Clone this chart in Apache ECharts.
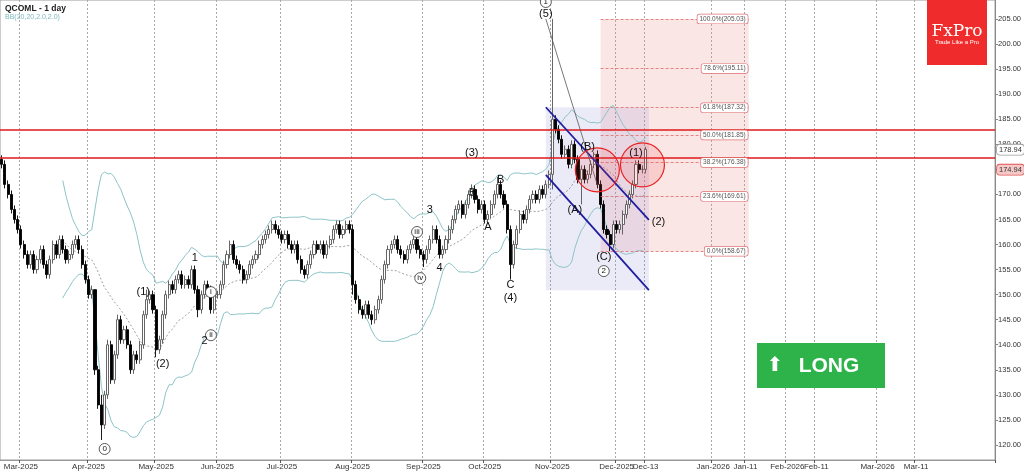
<!DOCTYPE html>
<html>
<head>
<meta charset="utf-8">
<script src="https://cdn.jsdelivr.net/npm/echarts@6/dist/echarts.min.js"></script>
<style>html,body{margin:0;padding:0;background:#fff}#main{width:1024px;height:474px}</style>
</head>
<body>
<div id="main"></div>
<script>
// daily closes (index 0 = 21 Feb 2025)
const closes = [
  176,172,170,167,165,163,160,158,156,158, 155,157,159,156,154,157,160,158,161,159,
  157,158,160,161,159,156,153,150,151,135,128,124,130,140,133,138,145,141,143,140,
  135,138,137,140,146,149,150,147,139,141, 146,150,152,151,153,154,152,153,152,155,
  151,147,150,152,151,147,150,150,152,156, 158,160,157,156,155,153,154,156,157,158,
  160,161,162,163,164,163,162,161,162,160, 159,160,157,155,154,156,158,160,159,160,
  158,160,161,163,164,162,163,164,163,152, 149,147,146,148,146,145,147,149,153,156,
  159,160,161,159,158,157,159,160,161,159, 158,157,159,161,163,161,158,159,161,163,
  165,167,168,166,168,170,171,169,167,168, 165,166,168,170,172,170,168,163,156,160,
  163,166,165,167,169,170,169,171,170,172, 174,185,183,181,178,179,176,180,177,173,
  175,173,174,176,178,172,168,163,162,160, 164,163,164,166,168,170,172,176,175,175,
  179
];
// hand-read extremes where the wick is notable
const highs = {29:151, 31:130, 33:141, 36:146, 45:151, 109:164, 146:172, 154:173.5, 171:205.03, 184:178.5, 200:179.5};
const lows = {29:134, 31:121, 48:137.5, 61:145.5, 109:150, 115:144, 131:155.5, 158:153, 171:171, 180:168, 189:158.67, 193:162};
const totalBars = 309;
const monthTicks = {6:'Mar-2025',27:'Apr-2025',48:'May-2025',67:'Jun-2025',87:'Jul-2025',109:'Aug-2025',131:'Sep-2025',150:'Oct-2025',171:'Nov-2025',191:'Dec-2025',200:'Dec-13',221:'Jan-2026',231:'Jan-11',244:'Feb-2026',253:'Feb-11',272:'Mar-2026',284:'Mar-11'};
const priceTicks = [120,125,130,135,140,145,150,155,160,165,170,175,180,185,190,195,200,205];
const fibLevels = [[205.03,'100.0%'],[195.11,'78.6%'],[187.32,'61.8%'],[181.85,'50.0%'],[176.38,'38.2%'],[169.61,'23.6%'],[158.67,'0.0%']];
const resistance = [183.0, 177.3];
// wave labels: text, bar index, price, circled
const waves = [
  ['(5)',169,206,false],['1',169,208.4,true],['(3)',146.4,178.3,false],['5',145.8,170.3,false],
  ['3',133.1,166.9,false],['iii',128.8,162.5,true],['B',154.8,172.9,false],['A',151.1,163.5,false],
  ['4',135.6,155.3,false],['iv',130,153.3,true],['C',157.9,151.9,false],['(4)',157.9,149.3,false],
  ['(B)',182,179.5,false],['(A)',177.7,166.9,false],['(C)',186.6,157.5,false],['2',186.6,154.7,true],
  ['(1)',196.8,178.3,false],['(2)',203.6,164.5,false],['1',60.4,157.3,false],['2',62.9,140.7,false],
  ['i',65.4,150.5,true],['ii',64.5,141.9,true],['(1)',44.3,150.5,false],['(2)',49.6,136.1,false],
  ['0',31.7,119.2,true]
];

const cats = [];
for (let i = 0; i < totalBars; i++) cats.push(monthTicks[i] || String(i));
const candles = closes.map((c, i) => {
  const o = i === 0 ? 177 : closes[i - 1];
  const h = highs[i] !== undefined ? highs[i] : Math.max(o, c) + 0.8;
  const l = lows[i] !== undefined ? lows[i] : Math.min(o, c) - 0.8;
  return [o, c, l, h];
});
// Bollinger 20, 2
const mid = [], up = [], dn = [];
closes.forEach((c, i) => {
  if (i < 19) { mid.push('-'); up.push('-'); dn.push('-'); return; }
  const w = closes.slice(i - 19, i + 1);
  const m = w.reduce((a, b) => a + b, 0) / 20;
  const sd = Math.sqrt(w.reduce((a, b) => a + (b - m) * (b - m), 0) / 20);
  mid.push(m); up.push(m + 2 * sd); dn.push(m - 2 * sd);
});

const tickShow = (idx) => monthTicks[idx] !== undefined;
const chart = echarts.init(document.getElementById('main'));
chart.setOption({
  animation: false,
  grid: {left: 0, right: 28, top: 0, bottom: 14, show: true, borderColor: '#999', borderWidth: 1},
  xAxis: {
    type: 'category', data: cats, boundaryGap: true,
    axisLine: {lineStyle: {color: '#999'}},
    axisTick: {show: true, interval: (i) => tickShow(i), length: 3, lineStyle: {color: '#555'}},
    axisLabel: {interval: (i) => tickShow(i), fontSize: 8, color: '#333', margin: 3, fontFamily: 'Arial'},
    splitLine: {show: true, interval: (i) => tickShow(i), lineStyle: {color: '#aaa', type: [2, 2]}}
  },
  yAxis: {
    type: 'value', position: 'right', min: 117, max: 208.8, scale: true,
    axisLine: {show: true, lineStyle: {color: '#888'}},
    axisTick: {show: true, customValues: priceTicks, length: 3},
    axisLabel: {customValues: priceTicks, fontSize: 7.5, color: '#333', margin: 3, fontFamily: 'Arial', formatter: (v) => v.toFixed(2)},
    splitLine: {show: false}
  },
  series: [
    {type: 'line', data: up, symbol: 'none', lineStyle: {color: '#8cc3c7', width: 1}, z: 1},
    {type: 'line', data: dn, symbol: 'none', lineStyle: {color: '#8cc3c7', width: 1}, z: 1},
    {type: 'line', data: mid, symbol: 'none', lineStyle: {color: '#888', width: 0.8, type: [2, 2]}, z: 1},
    {
      type: 'candlestick', data: candles, barWidth: 2.6, z: 3,
      itemStyle: {color: '#fff', color0: '#000', borderColor: '#555', borderColor0: '#000', borderWidth: 0.9},
      markArea: {
        silent: true,
        data: [
          [{coord: [186, 205.03], itemStyle: {color: 'rgba(235,130,130,0.2)'}}, {coord: [232, 158.67]}],
          [{coord: [169, 187.4], itemStyle: {color: 'rgba(120,120,210,0.15)'}}, {coord: [201, 150.9]}]
        ]
      },
      markLine: {
        silent: true, symbol: 'none', animation: false,
        data: [
          ...resistance.map(v => ({yAxis: v, lineStyle: {color: '#e0191a', width: 1.6, type: 'solid'}, label: {show: false}})),
          ...fibLevels.map(f => [{coord: [186, f[0]], lineStyle: {color: '#e06a6a', width: 0.8, type: [3, 2]}, label: {show: false}}, {coord: [232, f[0]]}]),
          [{coord: [168.7, 187.4], lineStyle: {color: '#1f1fa0', width: 1.8, type: 'solid'}, label: {show: false}}, {coord: [200.9, 164.9]}],
          [{coord: [168.7, 173.9], lineStyle: {color: '#1f1fa0', width: 1.8, type: 'solid'}, label: {show: false}}, {coord: [200.9, 150.9]}],
          [{coord: [169, 205.03], lineStyle: {color: '#555', width: 0.8, type: 'solid'}, label: {show: false}}, {coord: [184.5, 171.9]}]
        ]
      }
    }
  ]
});

const px = (i, p) => chart.convertToPixel({xAxisIndex: 0, yAxisIndex: 0}, [i, p]);
const g = [];
g.push({type: 'text', left: 5, top: 4, style: {text: 'QCOML - 1 day', fontSize: 8.5, fontWeight: 'bold', fill: '#222', fontFamily: 'Arial'}});
g.push({type: 'text', left: 5, top: 14, style: {text: 'BB(20,20,2.0,2.0)', fontSize: 7, fill: '#7fb8bd', fontFamily: 'Arial'}});
// circles around the breakout area
[[184.5, 174.9, 22], [199, 175.9, 22]].forEach(c => {
  const p = px(c[0], c[1]);
  g.push({type: 'circle', shape: {cx: p[0], cy: p[1], r: c[2]}, style: {fill: 'rgba(240,60,60,0.15)', stroke: '#e82020', lineWidth: 1.2}, z: 10});
});
fibLevels.forEach(f => {
  const p = px(232, f[0]);
  g.push({type: 'text', x: p[0] - 1, y: p[1], z: 12, style: {text: f[1] + '(' + f[0].toFixed(2) + ')', align: 'right', verticalAlign: 'middle', fontSize: 6.5, fill: '#555', fontFamily: 'Arial', backgroundColor: '#fff', borderColor: '#e07070', borderWidth: 0.7, borderRadius: 2, padding: [1, 2]}});
});
waves.forEach(w => {
  const p = px(w[1], w[2]);
  if (w[3]) g.push({type: 'circle', shape: {cx: p[0], cy: p[1], r: 5.5}, style: {fill: '#fff', stroke: '#333', lineWidth: 0.8}, z: 12});
  g.push({type: 'text', x: p[0], y: p[1], z: 13, style: {text: w[0], align: 'center', verticalAlign: 'middle', fontSize: w[3] ? 8 : 11, fill: '#111', fontFamily: 'Arial'}});
});
[[178.94, '#fff', '#999'], [174.94, '#f6c9c9', '#e05050']].forEach(t => {
  const p = px(0, t[0]);
  g.push({type: 'text', x: 997, y: p[1], z: 12, style: {text: t[0].toFixed(2), verticalAlign: 'middle', fontSize: 7.5, fill: '#333', fontFamily: 'Arial', backgroundColor: t[1], borderColor: t[2], borderWidth: 0.8, borderRadius: 3, padding: [1, 2]}});
});
g.push({type: 'rect', shape: {x: 927, y: 0, width: 60, height: 65}, style: {fill: '#f02b2b'}, z: 15});
g.push({type: 'text', x: 957, y: 32, z: 16, style: {text: 'FxPro', align: 'center', verticalAlign: 'middle', fontSize: 17, fill: '#fff', fontFamily: 'DejaVu Serif'}});
g.push({type: 'text', x: 957, y: 42, z: 16, style: {text: 'Trade Like a Pro', align: 'center', verticalAlign: 'middle', fontSize: 6, fill: '#fff', fontFamily: 'Arial'}});
g.push({type: 'rect', shape: {x: 757, y: 343, width: 128, height: 45}, style: {fill: '#2db34a'}, z: 15});
g.push({type: 'text', x: 775, y: 366, z: 16, style: {text: '⬆', align: 'center', verticalAlign: 'middle', fontSize: 20, fill: '#fff', fontFamily: 'DejaVu Sans'}});
g.push({type: 'text', x: 829, y: 366, z: 16, style: {text: 'LONG', align: 'center', verticalAlign: 'middle', fontSize: 21, fontWeight: 'bold', fill: '#fff', fontFamily: 'Arial'}});
chart.setOption({graphic: g});
</script>
</body>
</html>
